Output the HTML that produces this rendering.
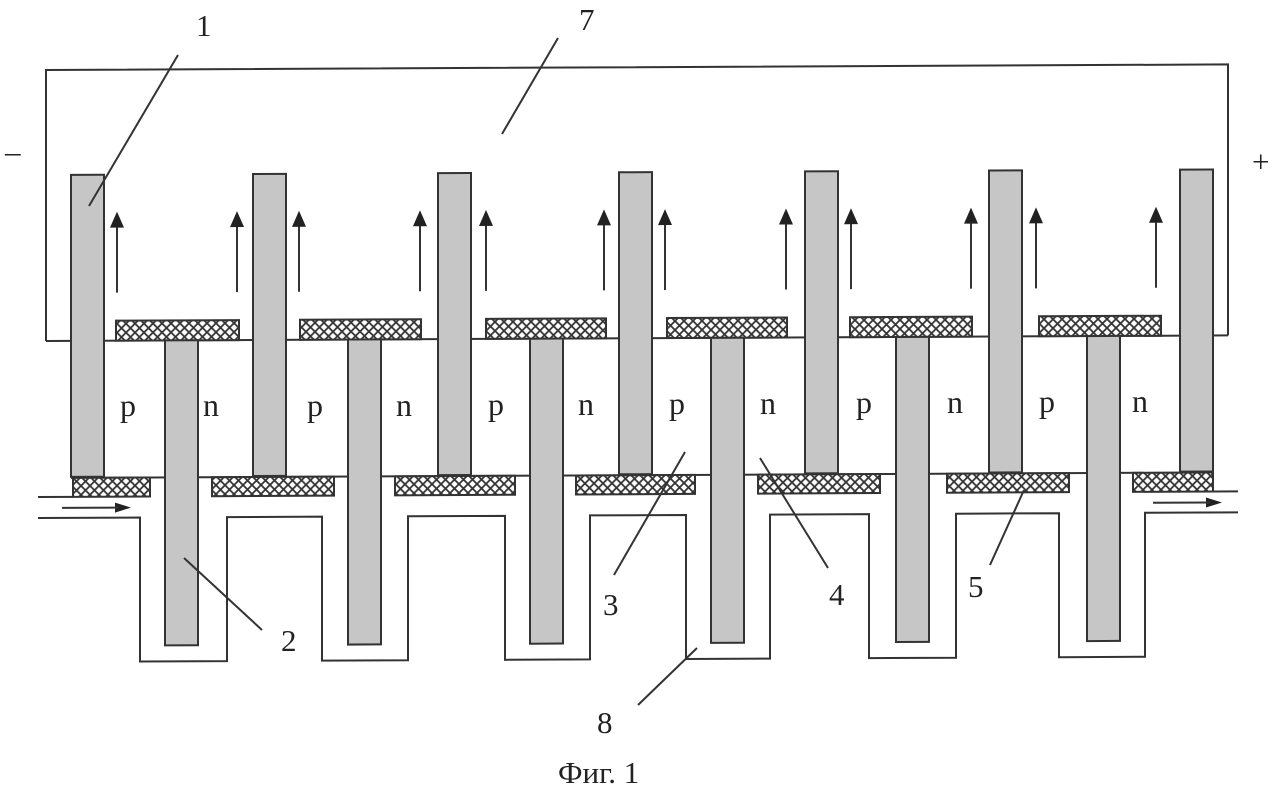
<!DOCTYPE html>
<html><head><meta charset="utf-8"><style>
html,body{margin:0;padding:0;background:#fff;}
svg{display:block;}
text{font-family:"Liberation Serif",serif;fill:#222;}
</style></head><body>
<svg width="1278" height="791" viewBox="0 0 1278 791" xmlns="http://www.w3.org/2000/svg">
<defs>
<pattern id="h" width="9" height="9" patternUnits="userSpaceOnUse">
<rect width="9" height="9" fill="#fff"/>
<path d="M0,0L9,9M9,0L0,9" stroke="#333" stroke-width="1.8"/>
</pattern>
</defs>
<g transform="translate(0,0.2) skewY(-0.27)" stroke="#333" stroke-width="2" fill="none">
<path d="M46,341 V70 H1228 V341"/>
<line x1="46" y1="341" x2="1228" y2="341"/>
<line x1="71" y1="478" x2="1214" y2="478"/>
<path d="M38,518 H140 V662 H227 V518 H322 V662 H408 V518 H505 V662 H590 V518 H686 V662 H770 V518 H869 V662 H956 V518 H1059 V662 H1145 V518 H1238"/>
<path d="M38,497 H73 M1214,497 H1238"/>
<g fill="url(#h)">
<rect x="116" y="321" width="123" height="20"/>
<rect x="300" y="321" width="121" height="20"/>
<rect x="486" y="321" width="120" height="20"/>
<rect x="667" y="321" width="120" height="20"/>
<rect x="850" y="321" width="122" height="20"/>
<rect x="1039" y="321" width="122" height="20"/>
<rect x="73" y="478" width="77" height="19"/>
<rect x="212" y="478" width="122" height="19"/>
<rect x="395" y="478" width="120" height="19"/>
<rect x="576" y="478" width="119" height="19"/>
<rect x="758" y="478" width="122" height="19"/>
<rect x="947" y="478" width="122" height="19"/>
<rect x="1133" y="478" width="80" height="19"/>
</g>
<g fill="#c6c6c6">
<rect x="71" y="175" width="33" height="302"/>
<rect x="253" y="175" width="33" height="302"/>
<rect x="438" y="175" width="33" height="302"/>
<rect x="619" y="175" width="33" height="302"/>
<rect x="805" y="175" width="33" height="302"/>
<rect x="989" y="175" width="33" height="302"/>
<rect x="1180" y="175" width="33" height="302"/>
<rect x="165" y="341" width="33" height="305"/>
<rect x="348" y="341" width="33" height="305"/>
<rect x="530" y="341" width="33" height="305"/>
<rect x="711" y="341" width="33" height="305"/>
<rect x="896" y="341" width="33" height="305"/>
<rect x="1087" y="341" width="33" height="305"/>
</g>
<path d="M117,293V225M237,293V225M299,293V225M420,293V225M486,293V225M604,293V225M665,293V225M786,293V225M851,293V225M971,293V225M1036,293V225M1156,293V225"/>
<g fill="#222" stroke="none">
<path d="M110,228L117,212L124,228Z M230,228L237,212L244,228Z M292,228L299,212L306,228Z M413,228L420,212L427,228Z M479,228L486,212L493,228Z M597,228L604,212L611,228Z M658,228L665,212L672,228Z M779,228L786,212L793,228Z M844,228L851,212L858,228Z M964,228L971,212L978,228Z M1029,228L1036,212L1043,228Z M1149,228L1156,212L1163,228Z"/>
<path d="M115,503L131,508L115,513Z M1206,503L1222,508L1206,513Z"/>
</g>
<path d="M62,508H118 M1153,508H1210"/>
</g>
<g stroke="#333" stroke-width="2">
<line x1="178" y1="55" x2="89" y2="206"/>
<line x1="558" y1="38" x2="502" y2="134"/>
<line x1="262" y1="630" x2="184" y2="558"/>
<line x1="614" y1="575" x2="685" y2="452"/>
<line x1="828" y1="568" x2="760" y2="458"/>
<line x1="990" y1="565" x2="1024" y2="490"/>
<line x1="638" y1="705" x2="697" y2="648"/>
</g>
<g font-size="31">
<text x="196" y="36">1</text>
<text x="579" y="30">7</text>
<text x="281" y="651">2</text>
<text x="603" y="615">3</text>
<text x="829" y="605">4</text>
<text x="968" y="597">5</text>
<text x="597" y="733">8</text>
<text x="1252" y="172">+</text>
<text x="5" y="162">–</text>
<text x="558" y="783">Фиг. 1</text>
</g>
<g font-size="32">
<text x="120" y="416">p</text><text x="203" y="416">n</text>
<text x="307" y="416">p</text><text x="396" y="416">n</text>
<text x="488" y="415">p</text><text x="578" y="415">n</text>
<text x="669" y="414">p</text><text x="760" y="414">n</text>
<text x="856" y="413">p</text><text x="947" y="413">n</text>
<text x="1039" y="412">p</text><text x="1132" y="412">n</text>
</g>
</svg>
</body></html>
